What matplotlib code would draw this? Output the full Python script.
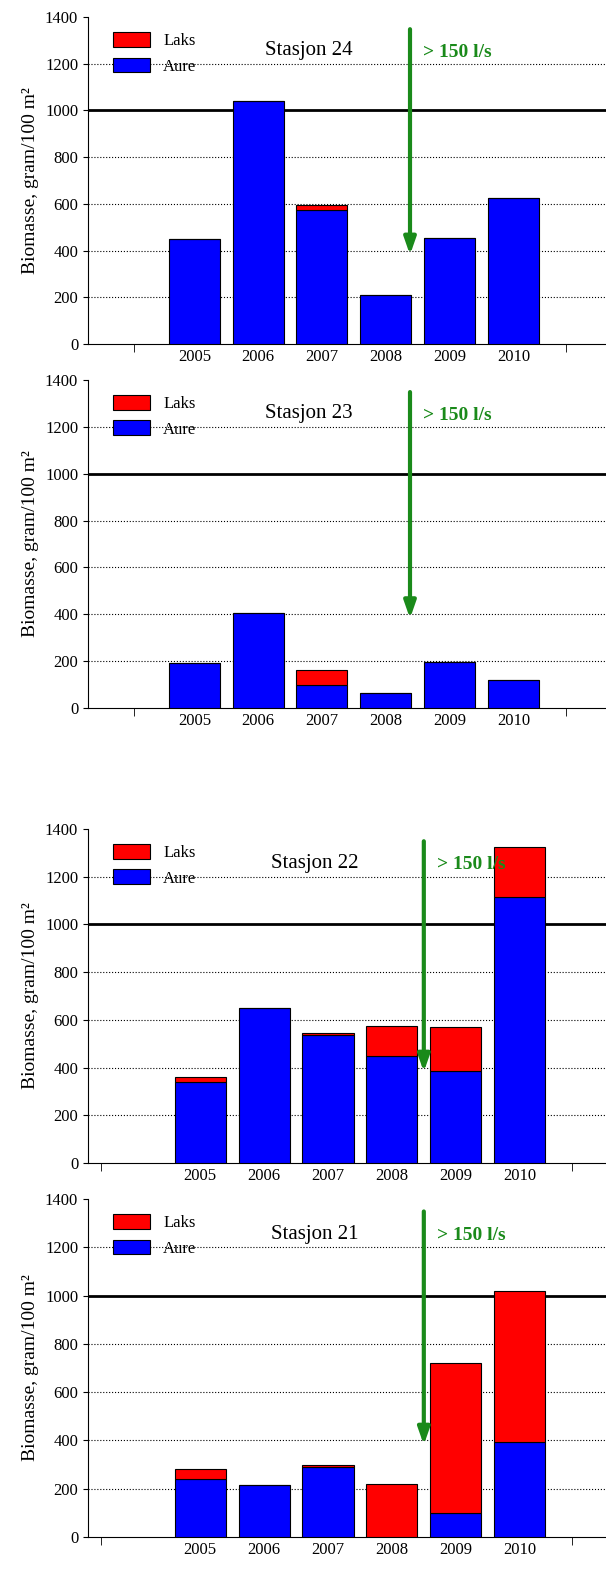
import matplotlib
matplotlib.use("Agg")
import matplotlib.pyplot as plt
import numpy as np

plt.rcParams['font.family'] = ['Liberation Serif', 'DejaVu Serif']

years = [2005, 2006, 2007, 2008, 2009, 2010]
stations = ["Stasjon 24", "Stasjon 23", "Stasjon 22", "Stasjon 21"]
aure_24 = [450, 1040, 575, 210, 455, 625]
laks_24 = [0, 0, 20, 0, 0, 0]
aure_23 = [190, 405, 100, 65, 195, 120]
laks_23 = [0, 0, 60, 0, 0, 0]
aure_22 = [340, 650, 535, 450, 385, 1115]
laks_22 = [20, 0, 10, 125, 185, 210]
aure_21 = [240, 215, 290, 0, 100, 395]
laks_21 = [40, 0, 10, 220, 620, 625]
aure_all = [aure_24, aure_23, aure_22, aure_21]
laks_all = [laks_24, laks_23, laks_22, laks_21]

fig = plt.figure(figsize=(6.06, 15.81), dpi=100)
rects = [(0.145, 0.7824, 0.86, 0.2068), (0.145, 0.5522, 0.86, 0.2075),
         (0.145, 0.2644, 0.86, 0.2113), (0.145, 0.0278, 0.86, 0.2138)]
xl = [(2003.33, 2011.5), (2003.33, 2011.5), (2003.24, 2011.4), (2003.24, 2011.4)]
edge_ticks = [(2004.05, 2010.83), (2004.05, 2010.83), (2003.44, 2010.82), (2003.44, 2010.82)]
arrow_x = [2008.38, 2008.38, 2008.5, 2008.5]

for i in range(4):
    ax = fig.add_axes(rects[i])
    a = np.array(aure_all[i]); l = np.array(laks_all[i])
    ax.bar(years, a, width=0.8, color='#0000ff', edgecolor='black', linewidth=0.8, label='Aure', zorder=3)
    ax.bar(years, l, width=0.8, bottom=a, color='#ff0000', edgecolor='black', linewidth=0.8, label='Laks', zorder=3)
    ax.set_ylim(0, 1400)
    ax.set_xlim(*xl[i])
    ax.set_yticks(range(0, 1401, 200))
    for y in range(200, 1401, 200):
        if y == 1000:
            ax.axhline(y, color='black', lw=2, zorder=2)
        elif y < 1400:
            ax.axhline(y, color='black', lw=0.8, ls=':', zorder=1)
    ax.set_xticks(years, [str(y) for y in years])
    ax.set_xticks(list(edge_ticks[i]), minor=True)
    ax.tick_params(axis='x', which='major', length=0, labelsize=12)
    ax.tick_params(axis='x', which='minor', length=6, direction='out')
    ax.tick_params(axis='y', labelsize=12, direction='out')
    for s in ['top', 'right']:
        ax.spines[s].set_visible(False)
    ax.set_ylabel('Biomasse, gram/100 m²', fontsize=14)
    h, lab = ax.get_legend_handles_labels()
    ax.legend(h[::-1], lab[::-1], loc='upper left', bbox_to_anchor=(0.02, 1.0), frameon=False,
              fontsize=12, handlelength=2.2, handleheight=1.0)
    ax.text(2006.8, 1255, stations[i], fontsize=15, ha='center', va='center')
    ax.annotate('', xy=(arrow_x[i], 370), xytext=(arrow_x[i], 1360),
                arrowprops=dict(arrowstyle='-|>,head_width=0.35,head_length=1.0', color='#1a8a1a', lw=3))
    ax.text(arrow_x[i] + 0.2, 1250, '> 150 l/s', color='#1a8a1a', fontsize=14,
            fontweight='bold', ha='left', va='center')

fig.savefig('out.png', dpi=100)
